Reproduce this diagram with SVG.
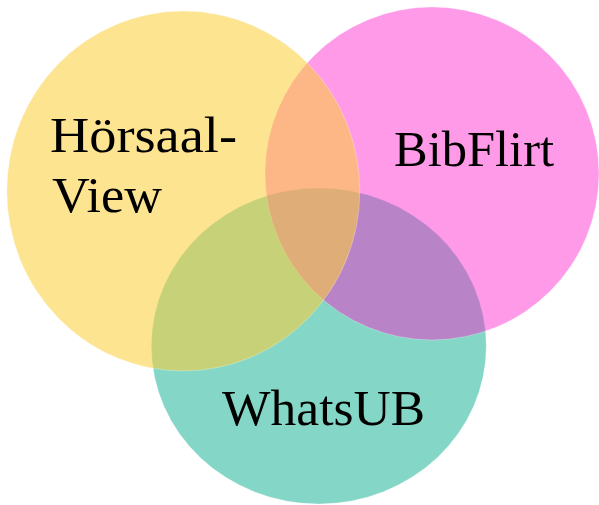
<svg xmlns="http://www.w3.org/2000/svg" width="599" height="505" viewBox="0 0 599 505">
  <style>
    .set { stroke: #ffffff; stroke-opacity: 0.35; stroke-width: 0.8; }
    .label { font-family: "Liberation Serif", "DejaVu Serif", serif; font-size: 51px; fill: #000000; }
  </style>
  <rect width="599" height="505" fill="#ffffff"/>
  <g id="whatsub">
    <ellipse class="set" cx="318.8" cy="346" rx="167.5" ry="158" fill="#84D6C6"/>
  </g>
  <g id="bibflirt">
    <ellipse class="set" cx="432" cy="173.5" rx="167" ry="166.5" fill="#FF16C9" fill-opacity="0.43"/>
  </g>
  <g id="hoersaal-view">
    <ellipse class="set" cx="183.3" cy="191" rx="176.5" ry="180" fill="#FBCF3B" fill-opacity="0.56"/>
  </g>
  <g id="labels">
    <text class="label" x="50" y="152" textLength="187" lengthAdjust="spacingAndGlyphs">Hörsaal-</text>
    <text class="label" x="52" y="212" textLength="110" lengthAdjust="spacingAndGlyphs">View</text>
    <text class="label" x="394" y="166" textLength="160" lengthAdjust="spacingAndGlyphs">BibFlirt</text>
    <text class="label" x="222" y="425" textLength="203" lengthAdjust="spacingAndGlyphs">WhatsUB</text>
  </g>
</svg>
